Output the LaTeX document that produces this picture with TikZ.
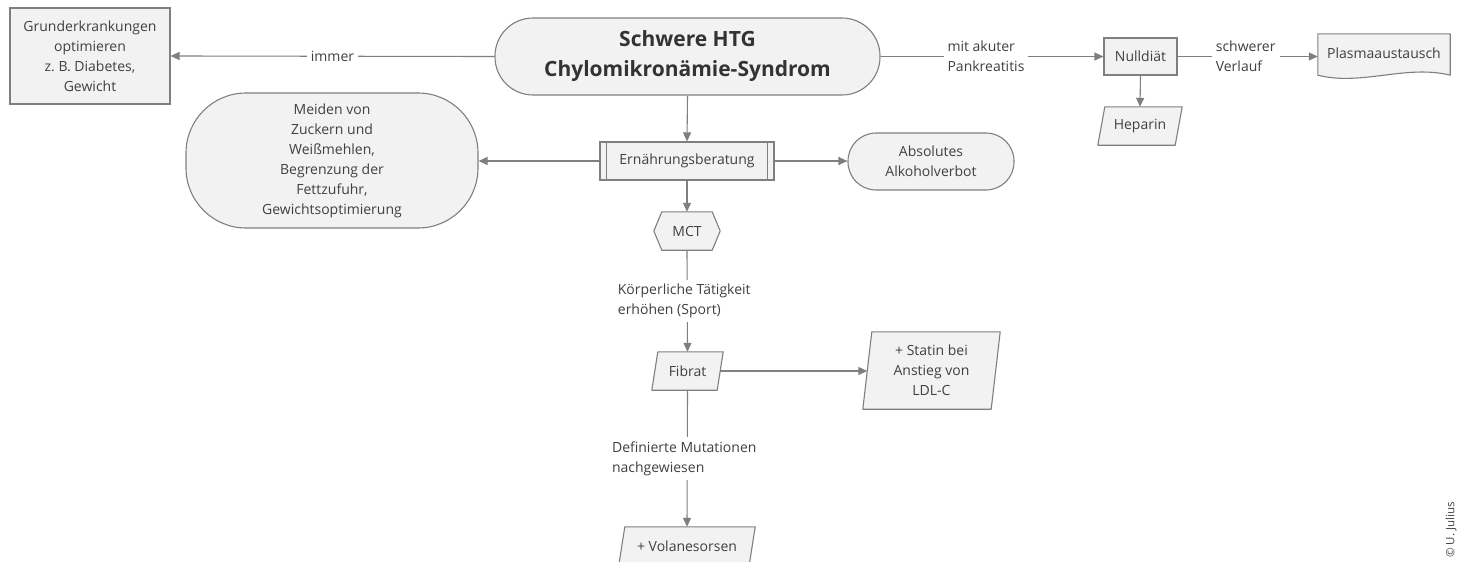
\documentclass[tikz,border=0pt]{standalone}
\usepackage{fontspec}
\setmainfont{Open Sans}
\usetikzlibrary{arrows.meta,backgrounds,calc}
\definecolor{edge}{HTML}{7F7F7F}
\definecolor{boxfill}{HTML}{F2F2F2}
\definecolor{txt}{HTML}{404040}
\definecolor{ttl}{HTML}{333333}
\frenchspacing
\begin{document}
\begin{tikzpicture}[x=1pt,y=-1pt,
  font=\fontsize{14}{20}\selectfont, text=txt,
  base/.style={draw=edge, fill=boxfill, line width=1.1pt, align=center, inner sep=0pt},
  rectbox/.style={base, rectangle},
  pill/.style={base, rounded corners=#1},
  ghost/.style={align=center, inner sep=0pt},
  lab/.style={fill=white, align=left, inner sep=4pt, text=txt},
  conn/.style={draw=edge, line width=1.1pt},
  arr/.style={conn, -{Triangle[length=9pt,width=8pt]}},
  shp/.style={draw=edge, fill=boxfill, line width=1.1pt, line join=round},
]
\useasboundingbox (0,0) rectangle (1457,562);

% nodes
\node[rectbox, minimum width=160pt, minimum height=96pt] (grund) at (90,56) {Grunderkrankungen\\optimieren\\z. B. Diabetes,\\Gewicht};
\node[pill=38pt, minimum width=385pt, minimum height=77pt, text=ttl, font=\bfseries\fontsize{21}{30}\selectfont] (main) at (687.5,56.5) {Schwere HTG\\Chylomikronämie-Syndrom};
\node[rectbox, minimum width=73pt, minimum height=37pt] (null) at (1140.5,56.5) {Nulldiät};
\node[ghost, minimum width=132pt, minimum height=38pt] (pla) at (1384,53) {Plasmaaustausch};
\node[ghost, minimum width=84pt, minimum height=38pt] (hep) at (1140,126) {Heparin};
\node[rectbox, minimum width=174pt, minimum height=38pt] (ern) at (687,161) {Ernährungsberatung};
\node[pill=60pt, minimum width=292pt, minimum height=135pt] (mei) at (332,160.5) {Meiden von\\Zuckern und\\Weißmehlen,\\Begrenzung der\\Fettzufuhr,\\Gewichtsoptimierung};
\node[pill=28pt, minimum width=166pt, minimum height=57pt] (alk) at (931,161.5) {Absolutes\\Alkoholverbot};
\node[ghost, minimum width=66pt, minimum height=38pt] (mct) at (687,231) {MCT};
\node[ghost, minimum width=71pt, minimum height=38pt] (fib) at (687.5,371) {Fibrat};
\node[ghost, minimum width=137pt, minimum height=77pt] (sta) at (931.5,370.5) {+ Statin bei\\Anstieg von\\LDL-C};
\node[ghost, minimum width=136pt, minimum height=38pt] (vol) at (687,546) {+ Volanesorsen};
\node[rotate=90, font=\fontsize{11.5}{13}\selectfont, text=txt] (copy) at (1451,530) {© U. Julius};

% custom shapes
\begin{scope}[on background layer]
  \foreach \n/\s in {hep/7, fib/6, sta/9, vol/6} {
    \draw[shp] ([xshift=\s pt]\n.north west) -- (\n.north east) -- ([xshift=-\s pt]\n.south east) -- (\n.south west) -- cycle;
  }
  \draw[shp] (mct.west) -- ([xshift=8pt]mct.north west) -- ([xshift=-8pt]mct.north east) -- (mct.east)
     -- ([xshift=-8pt]mct.south east) -- ([xshift=8pt]mct.south west) -- cycle;
  \draw[shp] ($(pla.south west)+(0,3)$) -- (pla.north west) -- (pla.north east) -- ($(pla.south east)+(0,3)$)
     .. controls ($(pla.south east)+(-44,-8)$) and ($(pla.south west)+(44,14)$) .. ($(pla.south west)+(0,3)$) -- cycle;
\end{scope}
\draw[conn] ([xshift=7pt]ern.north west) -- ([xshift=7pt]ern.south west);
\draw[conn] ([xshift=-7pt]ern.north east) -- ([xshift=-7pt]ern.south east);

% connectors
\draw[arr] (main.west) -- node[lab] (limmer) {immer} (grund.east);
\draw[arr] (main.east) -- node[lab, xshift=-6pt] (lpank) {mit akuter\\Pankreatitis} (null.west);
\draw[arr] (null.east) -- node[lab, xshift=-2pt] (lverl) {schwerer\\Verlauf} (null.east -| pla.west);
\draw[arr] (null.south) -- (hep.north);
\draw[arr] (main.south) -- (ern.north);
\draw[arr] (ern.west) -- (ern.west -| mei.east);
\draw[arr] (ern.east) -- (ern.east -| alk.west);
\draw[arr] (ern.south) -- (mct.north);
\draw[arr] (mct.south) -- node[lab, xshift=-3pt] (lsport) {Körperliche Tätigkeit\\erhöhen (Sport)} (fib.north);
\draw[arr] ($(fib.east)+(-3,0)$) -- ($(fib.east -| sta.west)+(4.5,0)$);
\draw[arr] (fib.south) -- node[lab, xshift=-3pt] (lmut) {Definierte Mutationen\\nachgewiesen} (vol.north);
\end{tikzpicture}
\end{document}
